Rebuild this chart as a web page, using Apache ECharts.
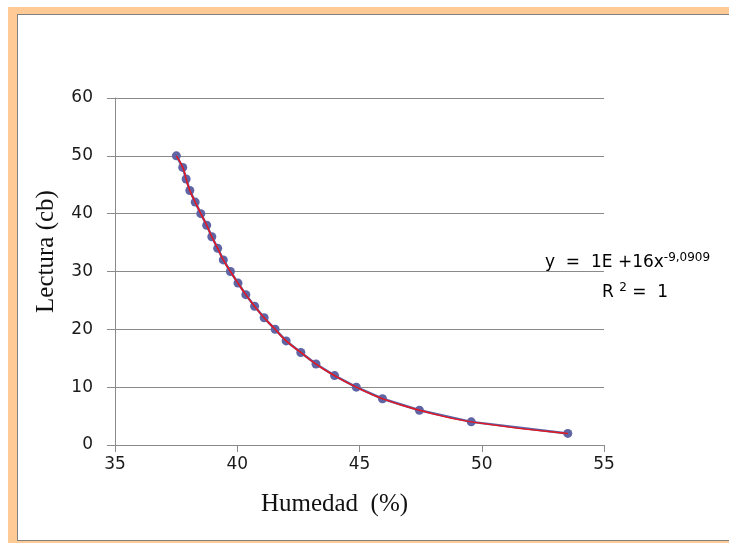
<!DOCTYPE html>
<html>
<head>
<meta charset="utf-8">
<script src="https://cdn.jsdelivr.net/npm/echarts@6/dist/echarts.min.js"></script>
<style>
  html, body { margin: 0; padding: 0; background: #fff; overflow: hidden; }
  .frame-outer { position: absolute; left: 8px; top: 7px; width: 760px; height: 560px; background: #FFCA96; }
  .frame-inner { position: absolute; left: 17px; top: 14px; width: 760px; height: 525px; background: #fff;
    border-left: 1.5px solid #808080; border-top: 1.5px solid #808080; border-bottom: 1.5px solid #808080; }
  #chart { position: absolute; left: 0; top: 0; width: 729px; height: 543px; }
</style>
</head>
<body>
<div class="frame-outer"></div>
<div class="frame-inner"></div>
<div id="chart"></div>
<script>
// humedad (%)
const humedad = [37.51, 37.77, 37.91, 38.06, 38.28, 38.51, 38.75, 38.96, 39.2, 39.43, 39.72, 40.03, 40.35,
  40.71, 41.1, 41.55, 42.0, 42.6, 43.22, 43.98, 44.87, 45.94, 47.45, 49.57, 53.52]
// lectura del tensiometro (cb)
const lectura = [50, 48, 46, 44, 42, 40, 38, 36, 34, 32, 30, 28, 26, 24, 22, 20, 18, 16, 14, 12, 10, 8, 6, 4, 2]

const xTicks = [35, 40, 45, 50, 55]
const yTicks = [0, 10, 20, 30, 40, 50, 60]

const points = humedad.map((h, i) => [h, lectura[i]])

const tickFont = { fontFamily: 'DejaVu Sans', fontSize: 17, color: '#1a1a1a' }
const gray = '#8a8a8a'

const chart = echarts.init(document.getElementById('chart'))

chart.setOption({
  backgroundColor: 'transparent',
  animation: false,
  grid: { left: 115, right: 125, top: 98, bottom: 98 },
  xAxis: {
    type: 'value',
    min: xTicks[0],
    max: xTicks[xTicks.length - 1],
    interval: 5,
    name: 'Humedad  (%)',
    nameLocation: 'middle',
    nameGap: 47,
    nameTextStyle: { fontFamily: 'Liberation Serif', fontSize: 25, color: '#111', padding: [0, 50, 0, 0] },
    axisLine: { show: true, lineStyle: { color: gray, width: 1 } },
    axisTick: { show: true, length: 7, lineStyle: { color: gray } },
    axisLabel: { ...tickFont, margin: 11 },
    splitLine: { show: false }
  },
  yAxis: {
    type: 'value',
    min: yTicks[0],
    max: yTicks[yTicks.length - 1],
    interval: 10,
    name: 'Lectura (cb)',
    nameLocation: 'middle',
    nameGap: 56,
    nameTextStyle: { fontFamily: 'Liberation Serif', fontSize: 25, color: '#111', padding: [0, 0, 0, 40] },
    axisLine: { show: true, lineStyle: { color: gray, width: 1 } },
    axisTick: { show: true, length: 8, lineStyle: { color: gray } },
    axisLabel: { ...tickFont, margin: 22 },
    splitLine: { show: true, lineStyle: { color: gray, width: 1 } }
  },
  series: [
    {
      type: 'line',
      data: points,
      symbol: 'circle',
      symbolSize: 9,
      itemStyle: { color: '#5E64A4' },
      lineStyle: { color: '#5E64A4', width: 2.5 },
      z: 2
    },
    {
      // linea de tendencia (potencial)
      type: 'line',
      data: points,
      smooth: true,
      symbol: 'none',
      lineStyle: { color: '#E8141E', width: 1.5 },
      z: 3
    }
  ],
  graphic: [
    {
      type: 'text',
      left: 545,
      top: 252,
      z: 10,
      style: {
        text: '{a|y  =  1E +16x}{s|-9,0909}',
        rich: {
          a: { fontFamily: 'DejaVu Sans', fontSize: 17, color: '#111', lineHeight: 22 },
          s: { fontFamily: 'DejaVu Sans', fontSize: 12, color: '#111', verticalAlign: 'top', lineHeight: 22 }
        }
      }
    },
    {
      type: 'text',
      left: 602,
      top: 282,
      z: 10,
      style: {
        text: '{a|R }{s|2}{a| =  1}',
        rich: {
          a: { fontFamily: 'DejaVu Sans', fontSize: 17, color: '#111', lineHeight: 22 },
          s: { fontFamily: 'DejaVu Sans', fontSize: 12, color: '#111', verticalAlign: 'top', lineHeight: 22 }
        }
      }
    }
  ]
})
</script>
</body>
</html>
